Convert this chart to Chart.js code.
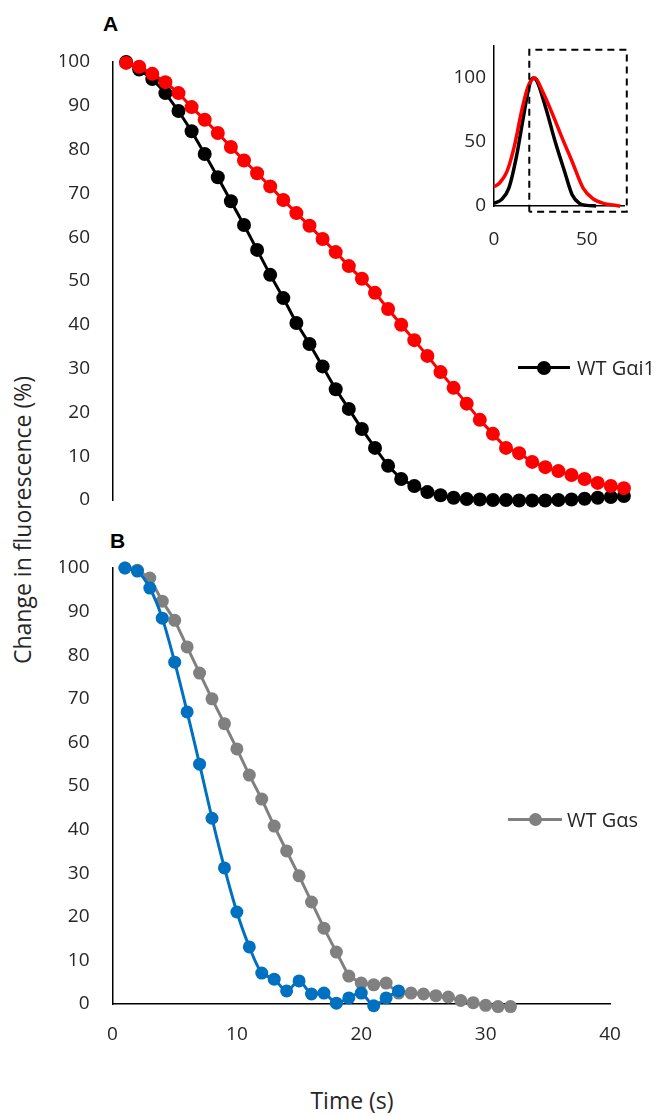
<!DOCTYPE html>
<html>
<head>
<meta charset="utf-8">
<script src="https://cdn.jsdelivr.net/npm/chart.js@4.4.1/dist/chart.umd.min.js"></script>
<style>
  body { margin: 0; background: #fff; }
  #pagina { position: relative; width: 663px; height: 1116px; font-family: "Open Sans", sans-serif; color: #262626; }
  canvas { position: absolute; }
  .letra { position: absolute; font-family: "Liberation Sans", Arial, sans-serif; font-weight: bold; font-size: 21px; color: #000; }
  .titulo { position: absolute; font-size: 23px; white-space: nowrap; transform: translate(-50%, -50%); }
  .legenda { position: absolute; height: 22px; }
  .legenda .traco { position: absolute; left: 0; top: 9px; height: 3px; }
  .legenda .bola { position: absolute; border-radius: 50%; }
  .legenda span { position: absolute; top: -3px; font-size: 20px; white-space: nowrap; }
</style>
</head>
<body>
<div id="pagina">
  <canvas id="graficoA" width="590" height="460" style="left:60px; top:50px"></canvas>
  <canvas id="graficoInset" width="220" height="230" style="left:430px; top:30px"></canvas>
  <canvas id="graficoB" width="590" height="500" style="left:60px; top:555px"></canvas>

  <div class="letra" style="left:103px; top:12px">A</div>
  <div class="letra" style="left:110px; top:529px">B</div>

  <div class="titulo" style="left:22px; top:520px; transform: translate(-50%, -50%) rotate(-90deg)">Change in fluorescence (%)</div>
  <div class="titulo" style="left:352px; top:1100px">Time (s)</div>

  <div class="legenda" style="left:518px; top:357px">
    <div class="traco" style="width:52px; background:#000"></div>
    <div class="bola" style="left:19px; top:3.5px; width:14px; height:14px; background:#000"></div>
    <span style="left:59px">WT Gαi1</span>
  </div>
  <div class="legenda" style="left:508px; top:809px">
    <div class="traco" style="width:54px; background:#808080"></div>
    <div class="bola" style="left:20.5px; top:4px; width:13px; height:13px; background:#808080"></div>
    <span style="left:59px">WT Gαs</span>
  </div>
</div>

<script>
// Painel A - tempo (s) e queda de fluorescência (%)
const tempoA = [1, 2, 3, 4, 5, 6, 7, 8, 9, 10, 11, 12, 13, 14, 15, 16, 17, 18, 19, 20,
  21, 22, 23, 24, 25, 26, 27, 28, 29, 30, 31, 32, 33, 34, 35, 36, 37, 38, 39];
const gai1Mutante = [99.8, 98.9, 97.3, 95.4, 92.9, 89.7, 86.8, 83.8, 80.6, 77.5,
  74.6, 71.6, 68.5, 65.5, 62.6, 59.6, 56.6, 53.4, 50.5, 47.3,
  43.6, 40.0, 36.5, 32.9, 29.2, 25.6, 22.0, 18.3, 15.1, 11.9,
  10.7, 8.7, 7.5, 6.6, 5.7, 4.8, 3.9, 3.2, 2.7];
const gai1WT = [100, 98.3, 96.1, 92.9, 88.8, 84.2, 79.0, 73.7, 68.2, 62.8,
  57.1, 51.4, 46.1, 40.4, 35.6, 30.5, 25.3, 20.8, 16.2, 11.9,
  7.8, 4.8, 3.2, 1.8, 1.1, 0.5, 0.2, 0.1, 0, 0,
  -0.1, -0.1, -0.1, 0, 0.1, 0.3, 0.5, 0.7, 0.9];

// Painel B
const tempoAzul = [1, 2, 3, 4, 5, 6, 7, 8, 9, 10, 11, 12, 13, 14, 15, 16, 17, 18, 19, 20, 21, 22, 23];
const gasMutante = [100, 99.3, 95.4, 88.5, 78.4, 67.0, 55.0, 42.6, 31.2, 21.1,
  13.1, 7.1, 5.7, 3.0, 5.3, 2.3, 2.5, 0.2, 1.4, 2.5, -0.4, 1.4, 3.0];
const tempoCinza = [1, 2, 3, 4, 5, 6, 7, 8, 9, 10, 11, 12, 13, 14, 15, 16,
  17, 18, 19, 20, 21, 22, 23, 24, 25, 26, 27, 28, 29, 30, 31, 32];
const gasWT = [100, 99.5, 97.7, 92.4, 88.0, 81.9, 75.9, 70.0, 64.3, 58.5,
  52.5, 47.0, 40.8, 35.1, 29.4, 23.4, 17.4, 11.9, 6.4, 4.8,
  4.4, 4.8, 2.5, 2.5, 2.3, 1.9, 1.6, 0.8, 0.3, -0.3, -0.6, -0.6];

// Inset do painel A (perfis normalizados)
const insetPretoT = [0, 4, 8, 12, 16, 19, 21, 23, 28, 33, 38, 42, 46, 50, 55];
const insetPretoV = [2, 5, 14, 38, 71, 94, 100, 98, 76, 50, 27, 9, 2, 0.5, 0];
const insetVermT = [0, 3, 7, 11, 15, 18, 20, 22, 26, 32, 37, 42, 48, 53, 59, 64, 68];
const insetVermV = [15, 18, 27, 47, 75, 92, 98, 100, 90, 70, 52, 35, 14, 6, 2, 0.7, 0];
const caixaT = [19, 19, 71.5, 71.5, 19];
const caixaV = [-4.5, 122, 122, -4.5, -4.5];

const ticksY = [0, 10, 20, 30, 40, 50, 60, 70, 80, 90, 100];
const ticksX = [0, 10, 20, 30, 40];
const ticksInset = [0, 50, 100];

const fonteTick = { family: "Open Sans", size: 19 };
const corTexto = "#262626";

function pares(xs, ys) {
  return xs.map((x, i) => ({ x: x, y: ys[i] }));
}

function serie(xs, ys, cor, raio, tensao) {
  return {
    data: pares(xs, ys),
    borderColor: cor,
    backgroundColor: cor,
    pointBackgroundColor: cor,
    pointBorderWidth: 0,
    pointRadius: raio,
    borderWidth: 3,
    tension: tensao,
    clip: false
  };
}

function fixaTicks(lista) {
  return function (escala) {
    escala.ticks = lista.map(v => ({ value: v }));
  };
}

// largura fixa do eixo y, sem a folga extra que o Chart.js reserva para os rótulos
function larguraY(largura) {
  return function (escala) {
    escala.width = largura;
    escala.paddingTop = 0;
    escala.paddingBottom = 0;
  };
}

const semPlugins = { legend: { display: false }, tooltip: { enabled: false } };

new Chart(document.getElementById("graficoA"), {
  type: "line",
  data: {
    datasets: [
      serie(tempoA, gai1Mutante, "#ff0000", 7, 0),
      serie(tempoA, gai1WT, "#000000", 7, 0)
    ]
  },
  options: {
    responsive: false,
    animation: false,
    layout: { padding: { left: 0, right: 13, top: 12, bottom: 10 } },
    plugins: semPlugins,
    scales: {
      x: { type: "linear", min: 0, max: 40, display: false },
      y: {
        min: 0, max: 100,
        afterBuildTicks: fixaTicks(ticksY),
        afterFit: larguraY(53),
        grid: { display: false, drawTicks: false },
        border: { display: true, color: "#000", width: 1.5 },
        ticks: { font: fonteTick, color: corTexto, padding: 23 }
      }
    }
  }
});

new Chart(document.getElementById("graficoB"), {
  type: "line",
  data: {
    datasets: [
      serie(tempoAzul, gasMutante, "#0070c0", 6.5, 0.3),
      serie(tempoCinza, gasWT, "#808080", 6.5, 0)
    ]
  },
  options: {
    responsive: false,
    animation: false,
    layout: { padding: { left: 0, right: 40, top: 13, bottom: 0 } },
    plugins: semPlugins,
    scales: {
      x: {
        type: "linear", min: 0, max: 40,
        afterBuildTicks: fixaTicks(ticksX),
        afterFit: escala => { escala.height = 51; },
        grid: { display: false, drawTicks: false },
        border: { display: true, color: "#000", width: 1.5 },
        ticks: { font: fonteTick, color: corTexto, padding: 19, maxRotation: 0 }
      },
      y: {
        min: 0, max: 100,
        afterBuildTicks: fixaTicks(ticksY),
        afterFit: larguraY(52.5),
        grid: { display: false, drawTicks: false },
        border: { display: true, color: "#000", width: 1.5 },
        ticks: { font: fonteTick, color: corTexto, padding: 23 }
      }
    }
  }
});

// inset: dois perfis suavizados e a caixa tracejada da janela analisada
new Chart(document.getElementById("graficoInset"), {
  type: "line",
  data: {
    datasets: [
      {
        data: pares(caixaT, caixaV),
        borderColor: "#000",
        borderWidth: 2,
        borderDash: [7, 5],
        pointRadius: 0,
        tension: 0,
        clip: false
      },
      {
        data: pares(insetVermT, insetVermV),
        borderColor: "#ff0000",
        borderWidth: 3.5,
        pointRadius: 0,
        cubicInterpolationMode: "monotone",
        clip: false
      },
      {
        data: pares(insetPretoT, insetPretoV),
        borderColor: "#000000",
        borderWidth: 3.5,
        pointRadius: 0,
        cubicInterpolationMode: "monotone",
        clip: false
      }
    ]
  },
  options: {
    responsive: false,
    animation: false,
    layout: { padding: { left: 0, right: 26, top: 16, bottom: 10 } },
    plugins: semPlugins,
    scales: {
      x: {
        type: "linear", min: 0, max: 70,
        afterBuildTicks: fixaTicks([0, 50]),
        afterFit: escala => { escala.height = 44; },
        grid: { display: false, drawTicks: false },
        border: { display: true, color: "#000", width: 1.5 },
        ticks: { font: fonteTick, color: corTexto, padding: 22, maxRotation: 0 }
      },
      y: {
        min: 0, max: 125,
        afterBuildTicks: fixaTicks(ticksInset),
        afterFit: larguraY(64),
        grid: { display: false, drawTicks: false },
        border: { display: true, color: "#000", width: 1.5 },
        ticks: { font: fonteTick, color: corTexto, padding: 8 }
      }
    }
  }
});
</script>
</body>
</html>
